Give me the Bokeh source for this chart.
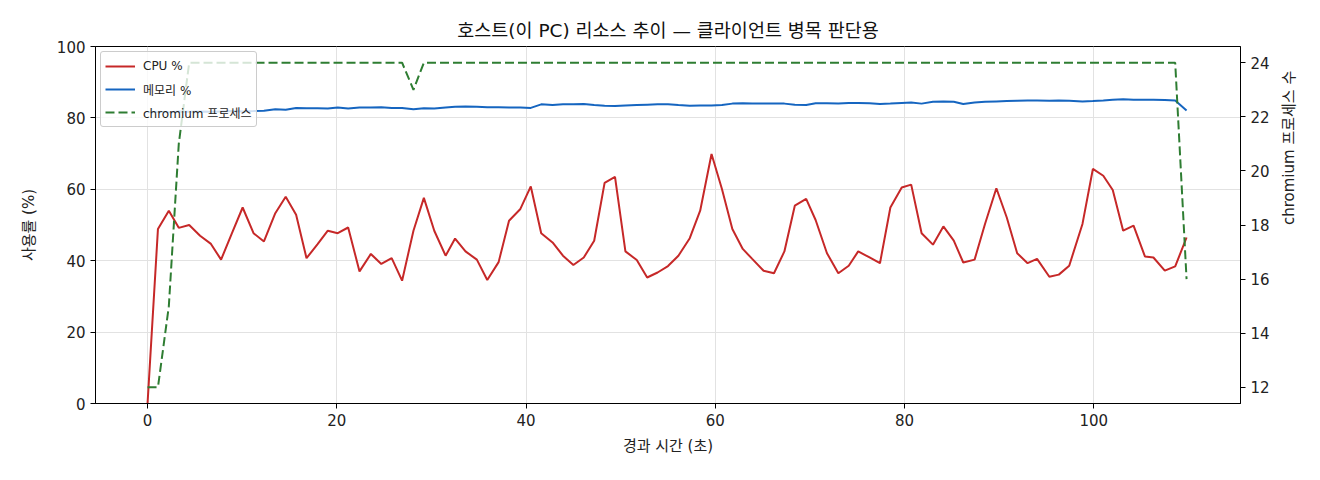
import math
from bokeh.plotting import figure
from bokeh.models import Range1d, LinearAxis, FixedTicker, Legend, LegendItem
from bokeh.embed import file_html
from bokeh.resources import INLINE

# elapsed time (s)
t = [0.0, 1.1, 2.25, 3.3, 4.4, 5.55, 6.7, 7.77, 8.9, 10.05,
     11.2, 12.3, 13.5, 14.6, 15.7, 16.8, 17.95, 19.05, 20.1, 21.2,
     22.4, 23.6, 24.7, 25.8, 26.9, 28.1, 29.2, 30.3, 31.5, 32.5,
     33.6, 34.8, 35.9, 37.1, 38.2, 39.4, 40.5, 41.6, 42.8, 43.9,
     45.0, 46.1, 47.2, 48.3, 49.4, 50.5, 51.7, 52.8, 53.9, 55.0,
     56.1, 57.3, 58.4, 59.6, 60.7, 61.8, 62.9, 63.9, 65.1, 66.2,
     67.3, 68.4, 69.6, 70.6, 71.8, 73.0, 74.1, 75.1, 76.3, 77.4,
     78.5, 79.7, 80.7, 81.8, 83.0, 84.1, 85.2, 86.2, 87.4, 88.5,
     89.7, 90.8, 91.9, 93.0, 94.0, 95.3, 96.3, 97.4, 98.8, 99.9,
     101.0, 102.0, 103.1, 104.2, 105.4, 106.3, 107.5, 108.6, 109.8]

cpu = [0.0, 48.9, 54.0, 49.2, 50.0, 47.0, 44.7, 40.3, 47.6, 54.9,
       47.7, 45.4, 53.3, 57.9, 52.9, 40.7, 44.6, 48.4, 47.7, 49.3,
       37.0, 41.9, 39.1, 40.7, 34.4, 48.4, 57.6, 48.4, 41.4, 46.2,
       42.6, 40.3, 34.6, 39.6, 51.2, 54.5, 60.8, 47.7, 45.1, 41.4,
       38.8, 40.9, 45.6, 61.8, 63.5, 42.6, 40.2, 35.3, 36.7, 38.5,
       41.4, 46.3, 54.0, 69.9, 60.1, 48.9, 43.3, 40.5, 37.2, 36.5,
       42.6, 55.4, 57.3, 51.4, 42.1, 36.5, 38.6, 42.6, 40.9, 39.3,
       54.9, 60.5, 61.3, 47.7, 44.5, 49.6, 45.6, 39.5, 40.3, 50.3,
       60.3, 52.1, 42.1, 39.3, 40.5, 35.5, 36.1, 38.6, 50.3, 65.7,
       63.8, 59.8, 48.4, 49.8, 41.2, 40.9, 37.2, 38.4, 46.5]

mem = [81.6, 81.7, 81.6, 81.8, 81.7, 81.8, 81.7, 81.8, 81.9, 81.8,
       81.9, 82.0, 82.4, 82.3, 82.8, 82.7, 82.7, 82.6, 82.9, 82.6,
       82.9, 82.9, 83.0, 82.8, 82.8, 82.4, 82.7, 82.6, 82.9, 83.1,
       83.2, 83.1, 83.0, 83.0, 82.9, 82.9, 82.8, 83.8, 83.6, 83.8,
       83.8, 83.9, 83.6, 83.4, 83.3, 83.5, 83.6, 83.7, 83.8, 83.8,
       83.6, 83.4, 83.5, 83.5, 83.6, 84.0, 84.1, 84.0, 84.0, 84.0,
       84.0, 83.7, 83.6, 84.1, 84.1, 84.0, 84.2, 84.2, 84.1, 83.9,
       84.0, 84.2, 84.3, 84.0, 84.5, 84.6, 84.5, 83.9, 84.3, 84.5,
       84.6, 84.7, 84.8, 84.9, 84.9, 84.8, 84.9, 84.8, 84.6, 84.7,
       84.9, 85.1, 85.2, 85.1, 85.1, 85.1, 85.0, 84.9, 82.1]

chromium = [12, 12, 15, 21, 24, 24, 24, 24, 24, 24,
            24, 24, 24, 24, 24, 24, 24, 24, 24, 24,
            24, 24, 24, 24, 24, 23, 24, 24, 24, 24,
            24, 24, 24, 24, 24, 24, 24, 24, 24, 24,
            24, 24, 24, 24, 24, 24, 24, 24, 24, 24,
            24, 24, 24, 24, 24, 24, 24, 24, 24, 24,
            24, 24, 24, 24, 24, 24, 24, 24, 24, 24,
            24, 24, 24, 24, 24, 24, 24, 24, 24, 24,
            24, 24, 24, 24, 24, 24, 24, 24, 24, 24,
            24, 24, 24, 24, 24, 24, 24, 24, 16]

x_ticks = [0, 20, 40, 60, 80, 100]
y_ticks = [0, 20, 40, 60, 80, 100]
proc_ticks = [12, 14, 16, 18, 20, 22, 24]

title_text = "호스트(이 PC) 리소스 추이 — 클라이언트 병목 판단용"
right_label = "chromium 프로세스 수"
labels = ["CPU %", "메모리 %", "chromium 프로세스"]

FONT = "DejaVu Sans, Noto Sans CJK KR"
RED = "#c62828"
BLUE = "#1565c0"
GREEN = "#2e7d32"

p = figure(frame_width=1145, frame_height=357, output_backend="svg",
           toolbar_location=None,
           x_range=Range1d(-5.5, 115.5), y_range=Range1d(0, 100),
           min_border_left=95, min_border_right=72,
           min_border_top=46, min_border_bottom=69,
           background_fill_color="white", border_fill_color="white")
p.extra_y_ranges = {"proc": Range1d(11.4, 24.6)}

r_cpu = p.line(t, cpu, line_color=RED, line_width=2)
r_mem = p.line(t, mem, line_color=BLUE, line_width=2)
r_chr = p.line(t, chromium, line_color=GREEN, line_width=2,
               line_dash="9 4", y_range_name="proc")

ax_r = LinearAxis(y_range_name="proc", axis_label=right_label)
p.add_layout(ax_r, "right")

p.xaxis.ticker = FixedTicker(ticks=x_ticks)
p.yaxis[0].ticker = FixedTicker(ticks=y_ticks)
ax_r.ticker = FixedTicker(ticks=proc_ticks)

p.xaxis.axis_label = "경과 시간 (초)"
p.yaxis[0].axis_label = "사용률 (%)"

for ax in [p.xaxis[0], p.yaxis[0], ax_r]:
    ax.axis_line_color = "black"
    ax.axis_line_width = 1
    ax.major_tick_line_color = "black"
    ax.major_tick_out = 5
    ax.major_tick_in = 0
    ax.minor_tick_line_color = None
    ax.major_label_text_font = FONT
    ax.major_label_text_font_size = "15px"
    ax.major_label_text_color = "#222222"
    ax.axis_label_text_font = FONT
    ax.axis_label_text_font_size = "15px"
    ax.axis_label_text_font_style = "normal"
    ax.axis_label_text_color = "#222222"
    ax.major_label_standoff = 5
    ax.axis_label_standoff = 8

p.yaxis[0].axis_label_standoff = 16
# read bottom-to-top, like the reference
ax_r.axis_label_orientation = math.pi / 2
ax_r.axis_label_standoff = 16

p.xgrid.ticker = FixedTicker(ticks=x_ticks)
p.ygrid.ticker = FixedTicker(ticks=y_ticks)
p.xgrid.grid_line_color = "#e2e2e2"
p.ygrid.grid_line_color = "#e2e2e2"

p.outline_line_color = "black"
p.outline_line_width = 1
p.outline_line_alpha = 1

p.title.text = title_text
p.title.align = "center"
p.title.text_font = FONT
p.title.text_font_size = "18.5px"
p.title.text_font_style = "normal"
p.title.text_color = "#111111"
p.title.standoff = 12

legend = Legend(items=[LegendItem(label=labels[0], renderers=[r_cpu]),
                       LegendItem(label=labels[1], renderers=[r_mem]),
                       LegendItem(label=labels[2], renderers=[r_chr])],
                location="top_left")
legend.margin = 5
legend.padding = 4
legend.spacing = 3
legend.label_text_font = FONT
legend.label_text_font_size = "12px"
legend.label_text_color = "#222222"
legend.glyph_width = 30
legend.label_standoff = 8
legend.border_line_color = "#cccccc"
legend.border_line_alpha = 1
legend.background_fill_alpha = 0.8
legend.border_radius = 3
p.add_layout(legend)

open("out.html", "w").write(file_html(p, INLINE))
